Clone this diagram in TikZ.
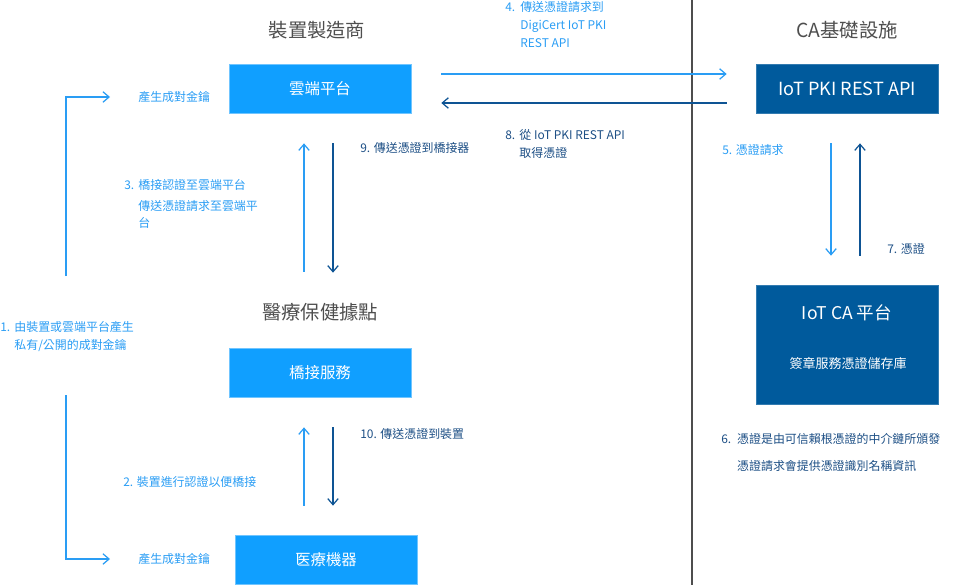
\documentclass[tikz,border=0pt]{standalone}
\usepackage{fontspec}
\setmainfont{Noto Sans CJK TC}
\usetikzlibrary{arrows.meta}
\definecolor{boxblue}{HTML}{109FFF}
\definecolor{boxdark}{HTML}{005A9C}
\definecolor{linelight}{HTML}{2A9DF4}
\definecolor{linedark}{HTML}{0E5494}
\definecolor{labeldark}{HTML}{1D4F85}
\definecolor{titlegray}{HTML}{4E4E4E}
\tikzstyle{lightbox} = [rectangle, minimum width=3.64cm, minimum height=0.98cm, text centered, fill=boxblue, draw=boxblue!60!white, text=white, font=\fontsize{8.8}{10}\selectfont]
\tikzstyle{darkbox} = [rectangle, minimum width=3.64cm, minimum height=0.98cm, text centered, fill=boxdark, draw=boxdark!80!white, text=white, font=\fontsize{10.3}{12}\selectfont]
\tikzstyle{title} = [text=titlegray, font=\fontsize{11}{13}\selectfont]
\tikzstyle{steplight} = [anchor=west, inner sep=0pt, text=linelight, font=\fontsize{6.8}{10.2}\selectfont]
\tikzstyle{stepdark} = [anchor=west, inner sep=0pt, text=labeldark, font=\fontsize{6.8}{10.2}\selectfont]
\tikzstyle{arrowlight} = [draw=linelight, line width=0.7pt, -{Straight Barb[length=3.5pt,width=6pt]}]
\tikzstyle{arrowdark} = [draw=linedark, line width=0.7pt, -{Straight Barb[length=3.5pt,width=6pt]}]
\tikzstyle{divider} = [draw=titlegray, line width=0.9pt]

\begin{document}
\begin{tikzpicture}[x=0.02cm, y=-0.02cm]
    \useasboundingbox (0,0) rectangle (971,585);

    % titles and divider
    \node (maker) [title] at (317,30) {裝置製造商};
    \node (infra) [title] at (847,30) {CA基礎設施};
    \node (site) [title] at (320,312) {醫療保健據點};
    \coordinate (divtop) at (692,0);
    \coordinate (divbot) at (692,585);
    \draw [divider] (divtop) -- (divbot);

    % boxes
    \node (cloud) [lightbox] at (320,88.5) {雲端平台};
    \node (api) [darkbox] at (847,88.5) {IoT PKI REST API};
    \node (bridge) [lightbox] at (320,372.5) {橋接服務};
    \node (device) [lightbox] at (326,559.5) {医療機器};
    \node (ca) [darkbox, minimum height=2.38cm] at (847,344.5) {};
    \node (catitle) [text=white, font=\fontsize{10}{12}\selectfont] at (847,313) {IoT CA 平台};
    \node (castore) [text=white, font=\fontsize{7.4}{9}\selectfont] at (848,363) {簽章服務憑證儲存庫};

    % step labels
    \node (key1) [steplight] at (138,97) {產生成對金鑰};
    \node (key2) [steplight] at (138,559) {產生成對金鑰};
    \node (step1) [steplight, anchor=base west] at (0,331.5) {\begin{tabular}[t]{@{}p{8pt}@{}l@{}}1. & 由裝置或雲端平台產生\\ & 私有/公開的成對金鑰\end{tabular}};
    \node (step2) [steplight] at (123,482) {2. 裝置進行認證以便橋接};
    \node (step3) [steplight, anchor=base west] at (124,189.5) {\begin{tabular}[t]{@{}p{8pt}@{}l@{}}3. & 橋接認證至雲端平台\\[1.5pt] & 傳送憑證請求至雲端平\\ & 台\end{tabular}};
    \node (step4) [steplight, anchor=base west] at (505,11.5) {\begin{tabular}[t]{@{}p{8.5pt}@{}l@{}}4. & 傳送憑證請求到\\ & DigiCert IoT PKI\\ & REST API\end{tabular}};
    \node (step5) [steplight] at (722,150) {5. 憑證請求};
    \node (step6) [stepdark, anchor=base west] at (721,443.5) {\begin{tabular}[t]{@{}p{9pt}@{}l@{}}6. & 憑證是由可信賴根憑證的中介鏈所頒發\\[5pt] & 憑證請求會提供憑證識別名稱資訊\end{tabular}};
    \node (step7) [stepdark] at (887,249) {7. 憑證};
    \node (step8) [stepdark, anchor=base west] at (505,139.5) {\begin{tabular}[t]{@{}p{8pt}@{}l@{}}8. & 從 IoT PKI REST API\\ & 取得憑證\end{tabular}};
    \node (step9) [stepdark] at (360,148) {9. 傳送憑證到橋接器};
    \node (step10) [stepdark] at (360,434) {10. 傳送憑證到裝置};

    % key generation brackets
    \coordinate (k1) at (66,276);
    \coordinate (k2) at (66,395);
    \draw [arrowlight, shorten >=0.56cm] (k1) |- (key1.west);
    \draw [arrowlight, shorten >=0.56cm] (k2) |- (key2.west);

    % connectors
    \draw [arrowlight, shorten <=0.6cm, shorten >=0.58cm] ([yshift=0.29cm]cloud.east) -- ([yshift=0.29cm]api.west);
    \draw [arrowdark, shorten <=0.58cm, shorten >=0.6cm] ([yshift=-0.29cm]api.west) -- ([yshift=-0.29cm]cloud.east);
    \draw [arrowlight, shorten <=1.52cm, shorten >=0.6cm] ([xshift=-0.32cm]bridge.north) -- ([xshift=-0.32cm]cloud.south);
    \draw [arrowdark, shorten <=0.6cm, shorten >=1.5cm] ([xshift=0.26cm]cloud.south) -- ([xshift=0.26cm]bridge.north);
    \draw [arrowlight, shorten <=0.58cm, shorten >=0.6cm] ([xshift=-0.32cm]bridge.south |- device.north) -- ([xshift=-0.32cm]bridge.south);
    \draw [arrowdark, shorten <=0.6cm, shorten >=0.58cm] ([xshift=0.26cm]bridge.south) -- ([xshift=0.26cm]bridge.south |- device.north);
    \draw [arrowlight, shorten <=0.6cm, shorten >=0.58cm] ([xshift=-0.32cm]api.south) -- ([xshift=-0.32cm]ca.north);
    \draw [arrowdark, shorten <=0.58cm, shorten >=0.6cm] ([xshift=0.26cm]ca.north) -- ([xshift=0.26cm]api.south);

\end{tikzpicture}
\end{document}
